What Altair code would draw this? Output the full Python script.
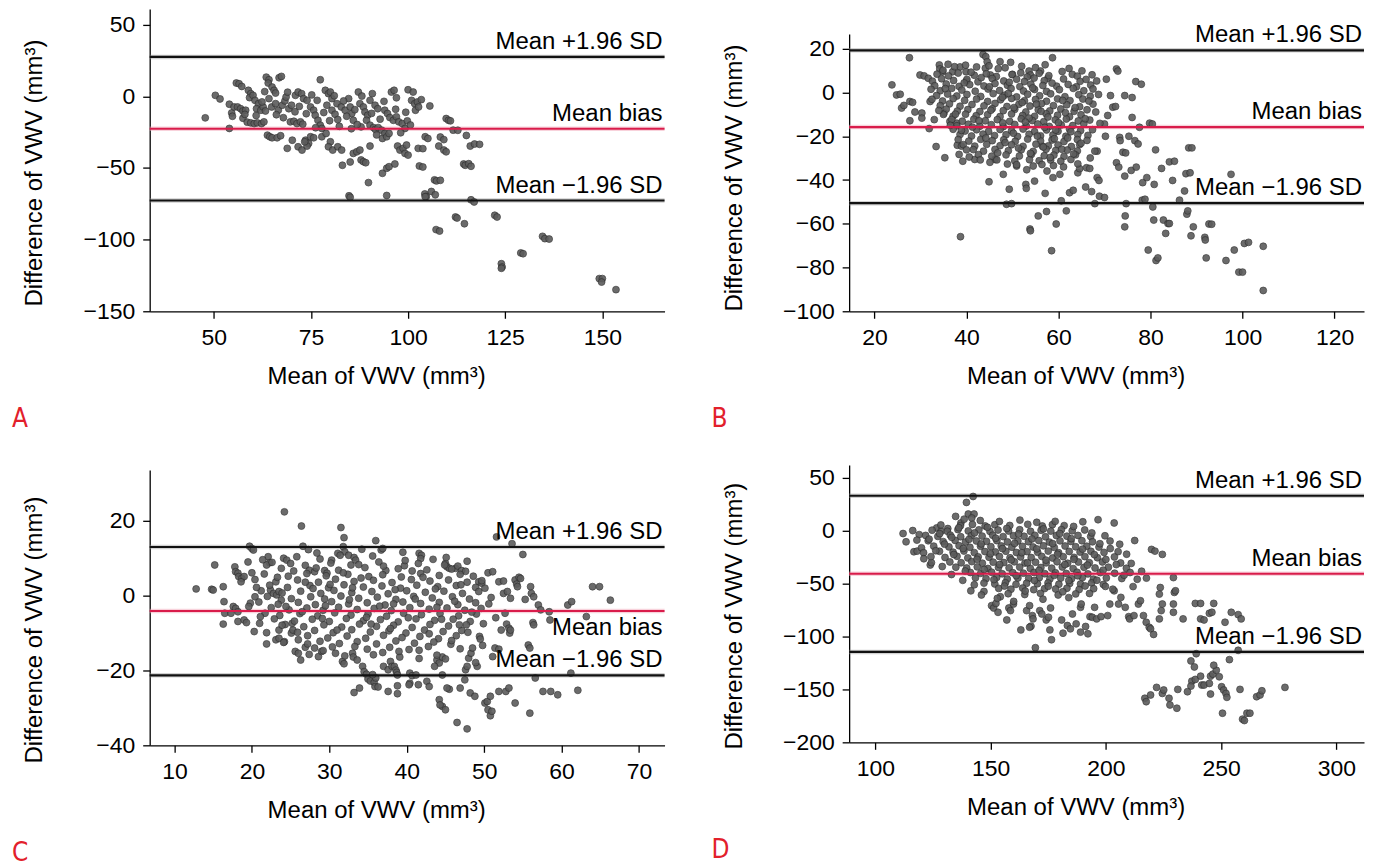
import altair as alt
import pandas as pd

# ---------------- data (mean of VWV, difference of VWV) ----------------
A_POINTS = [
    (47.8, -15.0), (50.4, 0.7), (51.6, -1.8), (54.0, -22.4), (54.0, -5.5), (54.6, -11.6), (55.2, -7.4), (54.8, -13.9),
    (55.8, 9.3), (56.5, 8.8), (57.2, 6.9), (56.1, -7.4), (56.9, -8.6), (57.5, -10.2), (58.2, -9.7),
    (57.5, -15.3), (58.6, -18.0), (59.5, -18.5), (60.4, -19.0), (61.2, -18.5), (62.3, -19.0), (62.9, -17.8),
    (58.9, 4.2), (59.5, 1.9), (59.2, -0.9), (60.1, 0.7), (60.6, -2.8), (61.5, -5.1), (61.0, -8.6), (62.1, -9.7),
    (62.7, -7.4), (63.3, -10.2), (63.5, 13.4), (64.2, 11.6), (64.0, 9.3), (65.0, 6.5), (65.5, 4.2), (65.9, 2.3),
    (66.8, 13.0), (67.4, 13.9), (63.8, -27.1), (64.4, -28.2), (65.0, -28.9), (66.3, -28.9), (67.2, -27.5),
    (64.2, -1.6), (64.9, -7.4), (65.9, -5.1), (66.6, -9.7), (67.6, -6.2), (68.3, -3.2), (68.6, -0.5), (69.3, -8.6),
    (70.0, -6.2), (68.9, -36.3), (70.2, -30.6), (69.7, -17.8), (70.6, -17.4), (71.4, -19.0), (72.3, -17.8),
    (72.9, -19.4), (71.0, 0.7), (71.7, 3.0), (72.6, 1.9), (73.1, -1.6), (74.0, -2.8), (71.7, -35.2), (72.7, -37.5),
    (73.6, -30.6), (74.4, -32.9), (74.9, -28.2), (75.7, -28.9), (74.0, -34.7), (73.4, -31.7), (74.9, -7.4),
    (75.7, -9.7), (76.1, -13.2), (76.8, -16.7), (77.4, -20.1), (77.8, -22.4), (76.6, -2.8), (77.4, 11.6),
    (78.7, 4.2), (79.5, 1.9), (80.0, 3.0), (80.4, -1.6), (79.1, -6.2), (80.4, -9.7), (81.2, -12.5), (81.9, -16.2),
    (77.8, -28.2), (78.9, -25.9), (80.0, -31.7), (79.5, -35.2), (80.6, -37.5), (81.9, -35.2), (82.9, -37.5),
    (81.7, -5.1), (82.8, -7.4), (83.8, -9.7), (84.7, -1.6), (85.1, -7.4), (85.5, -12.0), (85.9, -16.7),
    (83.1, -48.1), (85.1, -45.8), (85.9, -39.8), (86.8, -38.7), (87.6, -37.5), (87.9, -44.4), (88.5, -45.6),
    (89.1, -46.3), (87.2, 3.0), (87.6, -5.1), (88.5, -7.4), (88.9, -10.9), (89.6, -13.2), (90.2, -2.8), (90.8, 1.9),
    (91.5, -6.2), (92.2, -8.6), (89.3, -16.7), (90.2, -20.1), (91.1, -21.8), (91.6, -23.1), (92.3, -21.8),
    (93.2, -23.6), (94.0, -25.9), (93.4, -29.4), (94.5, -28.2), (95.1, -25.9), (89.8, -60.2), (90.2, -34.7),
    (87.9, -21.3), (93.4, -53.7), (94.5, -50.2), (95.1, -49.1), (96.6, -47.2), (95.7, 3.0), (96.4, 4.2),
    (94.0, -9.7), (94.7, -12.0), (95.3, -14.8), (96.2, -16.7), (97.0, -14.3), (97.6, -17.8), (98.5, -19.0),
    (99.2, -22.4), (99.8, -17.1), (97.3, -34.7), (97.9, -37.5), (98.7, -36.3), (99.2, -39.8), (100.0, -41.0),
    (99.6, -34.0), (100.0, 4.6), (101.3, 3.0), (100.9, -2.8), (101.7, -5.1), (102.4, -3.9), (103.4, -2.3),
    (101.9, -9.7), (102.7, -7.4), (102.9, -48.6), (102.6, -36.3), (103.8, -36.5), (103.8, -49.3), (105.6, -6.7),
    (104.4, -28.2), (105.1, -29.4), (106.8, -58.3), (107.3, -59.0), (104.3, -68.1), (104.7, -69.9), (106.0, -66.4),
    (107.0, -68.7), (107.9, -34.7), (109.2, -37.5), (109.8, -38.7), (108.3, -28.4), (109.2, -30.2),
    (109.8, -15.5), (110.4, -16.7), (110.9, -17.1), (111.6, -23.6), (112.8, -23.7), (115.0, -27.3),
    (114.3, -47.2), (114.7, -48.1), (115.6, -47.0), (116.2, -48.8), (116.0, -34.7), (117.1, -33.3), (118.4, -33.5),
    (84.8, -69.4), (85.1, -70.4), (94.5, -69.2), (104.4, -70.0), (116.2, -72.2), (117.0, -73.7), (108.3, -58.6),
    (107.2, -93.0), (108.1, -94.0), (112.2, -84.2), (112.6, -84.9), (114.5, -88.9), (122.3, -83.0), (122.9, -84.2),
    (124.0, -116.8), (124.2, -119.1), (124.0, -120.0), (129.0, -109.3), (129.6, -109.8), (134.6, -97.7),
    (135.2, -99.3), (136.3, -99.6), (149.2, -127.2), (150.0, -127.2), (149.8, -129.6), (153.5, -134.9),
    # extra points in the dense part
    (58.0, -12.6), (60.9, -13.4), (62.4, -3.9), (63.1, 3.3), (66.1, -12.8), (67.9, -14.9), (69.0, 2.9), (70.9, -10.8),
    (72.0, -7.0), (73.8, -12.1), (75.2, 1.0), (76.2, -21.9), (78.3, -11.3), (79.8, -17.0), (81.0, 0.4), (82.3, -20.9),
    (83.4, -3.2), (84.2, -13.9), (86.3, -9.3), (86.9, -19.7), (88.1, 0.2), (90.6, -11.9), (92.8, -15.9), (93.8, -3.5),
    (96.8, -9.0), (98.1, -25.4), (99.4, -11.1), (100.6, -20.0), (97.0, -1.0), (91.9, -26.9), (85.4, -22.6),
]

B_POINTS = [
    (27.6, 15.9), (23.8, 3.5), (24.8, -1.1), (25.6, -0.8), (25.9, -7.1), (26.4, -5.9), (27.7, -4.1), (28.3, -4.5),
    (27.7, -12.9), (28.8, -8.9), (30.3, -9.4), (30.3, -11.7), (29.9, 8.0), (30.8, 7.6), (31.7, 6.5), (32.1, -4.1),
    (31.9, -16.5), (33.4, -24.7), (34.1, 12.6), (34.2, 10.8), (34.8, 9.5), (35.1, -9.4), (35.3, -29.8),
    (36.4, -13.2), (37.0, 9.5), (37.9, -14.0), (38.0, -24.1), (38.6, 11.7), (39.2, -31.4), (39.9, 9.5), (40.0, 5.3),
    (38.4, -28.3), (38.9, -24.5), (41.8, -30.6), (42.2, 11.7), (43.6, 17.4), (44.2, 16.4), (44.5, 14.1),
    (44.1, 11.1), (45.2, 8.0), (44.9, -40.8), (46.2, -30.6), (47.3, 14.1), (48.0, -37.4), (49.3, -44.2),
    (49.6, 13.8), (50.0, 8.3), (50.9, -33.6), (48.7, -51.1), (49.8, -50.8), (52.9, -42.0), (53.0, -43.8),
    (53.6, 9.8), (53.8, -62.4), (53.9, -63.2), (53.9, 8.0), (54.8, -40.5), (55.6, -56.4), (56.1, 9.8),
    (56.5, -24.5), (57.1, -46.1), (57.4, -54.4), (57.7, 6.5), (58.5, -72.3), (58.7, 15.9), (58.8, -38.9),
    (59.5, -60.1), (60.3, -37.4), (60.6, -49.5), (61.7, -54.1), (62.4, -45.8), (63.2, -44.7), (64.2, -36.7),
    (64.6, -34.8), (65.9, -43.2), (66.1, -34.4), (66.8, -34.7), (67.2, -45.3), (67.9, -50.8), (68.4, -38.9),
    (68.4, -26.8), (68.8, -40.2), (68.9, -47.4), (70.0, -48.0), (70.2, -20.0), (70.4, 6.1), (70.0, -14.4),
    (70.7, -10.5), (71.3, -1.4), (71.8, -6.7), (72.4, -6.4), (72.6, 10.8), (72.9, 9.8), (72.6, -32.1),
    (73.1, -34.1), (73.3, -20.5), (73.4, -22.0), (74.0, -27.3), (74.4, -1.4), (74.6, -27.6), (74.4, -38.2),
    (74.7, -50.8), (74.5, -56.4), (74.4, -61.4), (75.3, -20.0), (75.8, -35.6), (76.0, -2.3), (76.0, -11.4),
    (76.6, -22.0), (76.8, 5.0), (76.9, -34.1), (77.3, -23.5), (77.6, -15.9), (78.0, 3.8), (78.2, -49.2),
    (78.3, -41.2), (78.8, -48.8), (79.2, -38.9), (79.5, -72.0), (79.8, -14.0), (80.4, -14.4), (80.8, -42.0),
    (80.5, -52.3), (80.7, -58.3), (81.1, -26.2), (81.2, -76.8), (81.6, -75.6), (82.4, -34.7), (82.8, -58.3),
    (83.3, -64.4), (83.8, -59.9), (84.1, -59.9), (84.1, -31.7), (84.8, -40.2), (85.2, -31.4), (86.3, -49.2),
    (87.4, -45.0), (87.7, -37.1), (87.9, -55.6), (88.1, -54.1), (88.3, -25.3), (88.8, -65.5), (89.3, -61.4),
    (91.8, -66.2), (91.9, -67.4), (92.7, -60.1), (92.1, -75.6), (96.4, -76.8), (97.5, -37.4), (98.2, -72.0),
    (99.2, -82.1), (38.7, -65.9), (100.4, -69.0), (101.3, -68.5), (104.5, -70.3), (104.5, -90.5), (100.0, -82.1),
    (93.3, -60.2), (89.0, -25.3), (88.6, -36.7),
    # dense central cloud
    (33.6, 8.4), (36.1, 7.6), (38.2, 8.9), (41.7, 7.9), (44.3, 8.6), (46.5, 7.3), (49.9, 8.2), (53.2, 7.1),
    (55.8, 8.8), (57.9, 7.7), (63.0, 8.3), (64.1, 7.5), (67.3, 8.1),
    (32.6, 5.2), (34.6, 6.3), (37.2, 5.5), (40.1, 6.0), (42.5, 4.9), (45.6, 6.4), (48.1, 5.3), (50.9, 6.1),
    (52.6, 5.0), (54.7, 6.6), (56.9, 5.4), (61.1, 6.2), (64.7, 5.1), (66.0, 6.0),
    (33.1, 3.1), (35.6, 3.9), (38.4, 2.8), (40.7, 3.6), (43.8, 3.0), (46.2, 4.1), (48.9, 3.3), (51.6, 2.7),
    (54.0, 3.8), (56.6, 3.2), (59.6, 2.9), (62.1, 3.7), (63.9, 2.6), (67.0, 3.4),
    (32.3, 1.5), (34.3, 0.8), (36.8, 1.9), (39.0, 1.1), (41.9, 0.6), (44.7, 1.6), (47.2, 0.9), (49.7, 1.8),
    (52.4, 0.7), (54.8, 1.4), (57.4, 0.5), (60.2, 1.3), (63.2, 1.9), (65.5, 0.8), (67.5, 1.6),
    (33.5, -1.4), (35.9, -0.7), (37.9, -1.6), (40.1, -0.9), (43.1, -1.8), (45.8, -0.5), (48.3, -1.2), (50.9, -2.0),
    (53.3, -0.8), (55.9, -1.5), (58.3, -0.6), (61.4, -1.9), (64.4, -1.0), (66.9, -1.7),
    (32.5, -3.1), (34.8, -3.9), (37.1, -2.8), (39.6, -3.6), (42.2, -3.0), (44.6, -4.1), (47.4, -3.3), (49.8, -2.7),
    (52.6, -3.8), (55.0, -3.2), (57.4, -4.0), (59.8, -2.9), (62.5, -3.7), (65.3, -3.0),
    (34.3, -6.0), (36.3, -5.2), (38.6, -6.3), (41.2, -5.5), (43.8, -6.1), (46.2, -5.0), (48.8, -6.4), (51.4, -5.4),
    (53.8, -6.2), (56.3, -5.1), (58.9, -6.0), (61.8, -5.6), (64.6, -6.5), (67.5, -5.3),
    (35.6, -7.6), (38.0, -8.5), (40.3, -7.8), (42.9, -8.7), (45.6, -7.4), (48.0, -8.3), (50.5, -7.7), (52.9, -8.9),
    (55.6, -7.9), (58.1, -8.4), (60.5, -7.5), (63.4, -8.6), (66.2, -7.9),
    (35.0, -10.0), (37.1, -10.8), (39.8, -9.9), (42.1, -10.6), (44.6, -10.1), (47.3, -11.0), (49.8, -9.8),
    (52.2, -10.5), (54.8, -10.9), (57.3, -9.7), (59.8, -10.4), (62.4, -11.1), (64.9, -10.2),
    (36.8, -12.3), (39.1, -13.1), (41.6, -12.2), (44.1, -12.9), (46.7, -12.4), (49.4, -13.2), (51.9, -12.0),
    (54.3, -12.8), (56.8, -13.3), (59.3, -12.5), (61.7, -12.1), (64.3, -13.0), (66.8, -12.6),
    (37.9, -15.2), (40.4, -14.5), (42.9, -15.4), (45.4, -14.7), (48.0, -15.6), (50.5, -14.6), (53.0, -15.3),
    (55.5, -14.4), (58.0, -15.5), (60.6, -14.8), (63.1, -15.1), (65.5, -14.3),
    (37.1, -16.8), (39.7, -17.6), (42.2, -17.0), (44.8, -17.8), (47.3, -16.9), (49.8, -17.5), (52.3, -16.7),
    (54.8, -17.9), (57.4, -17.1), (59.9, -17.7), (62.4, -16.8), (64.8, -17.4), (67.4, -17.0),
    (38.6, -19.2), (41.1, -19.9), (43.6, -19.0), (46.1, -19.7), (48.6, -19.3), (51.1, -20.1), (53.6, -19.1),
    (56.1, -19.8), (58.8, -19.4), (61.6, -20.0), (64.2, -19.2), (66.4, -19.6),
    (38.2, -21.5), (40.5, -22.2), (43.1, -21.4), (45.6, -22.0), (48.1, -21.6), (50.6, -22.3), (53.3, -21.3),
    (56.1, -22.1), (58.6, -21.7), (61.2, -22.4), (64.1, -21.5), (66.2, -21.9),
    (39.3, -23.8), (41.8, -24.5), (44.4, -23.7), (47.3, -24.3), (49.8, -23.9), (52.3, -24.6), (55.1, -23.6),
    (57.8, -24.4), (59.9, -24.0), (62.8, -24.7), (64.6, -23.8),
    (41.5, -26.1), (43.7, -26.8), (46.2, -26.0), (49.1, -26.6), (51.9, -26.2), (54.5, -26.9), (57.3, -25.9),
    (59.4, -26.5), (61.9, -26.3), (64.1, -26.7),
    (42.6, -28.4), (45.5, -29.1), (48.6, -28.5), (51.5, -29.0), (54.1, -28.3), (56.9, -28.9), (59.0, -28.6),
    (61.2, -29.2), (63.7, -28.5),
    (46.6, -30.8), (50.5, -31.3), (53.7, -30.7), (55.8, -31.2), (58.3, -30.9), (60.5, -31.4), (62.7, -30.6),
    (50.9, -33.0), (54.5, -33.6), (56.4, -32.9), (58.9, -33.4),
    (34.9, 10.2), (37.4, 11.8), (39.5, 4.4), (41.0, 9.3), (43.2, 6.8), (45.0, 2.6), (46.9, 10.9), (47.8, -2.2),
    (49.3, 4.7), (50.3, -6.9), (51.8, 9.0), (52.1, -4.6), (53.6, -11.7), (54.4, 2.1), (55.4, -19.9), (56.2, -8.6),
    (57.0, -15.9), (58.6, 4.3), (59.1, -21.1), (60.0, -13.8), (60.9, -3.6), (61.5, -9.2), (62.7, -17.9),
    (63.6, -6.9), (64.9, -23.2), (65.8, -12.0), (66.6, -3.9), (67.9, -26.8), (42.7, -12.9), (44.2, -20.8),
    (45.3, -8.1), (46.8, -27.6), (47.9, -13.9), (48.4, -22.9), (49.1, -0.4), (50.2, -18.6), (51.3, -25.4),
    (52.8, -13.5), (53.9, -27.8), (55.2, -5.3), (56.7, -24.9), (57.7, -11.2), (58.2, -29.7), (59.4, -17.2),
    (60.7, -25.9), (62.0, -20.8), (63.3, -28.1), (41.3, -15.8), (40.0, -26.2), (38.9, -17.3), (37.6, -9.9),
    (36.5, -15.0), (35.4, 1.8), (34.0, -8.2), (33.0, -12.4), (36.0, 12.9), (39.8, 12.5), (44.9, 12.2),
    (48.4, 11.3), (52.0, 12.0), (55.0, 11.4), (57.1, 12.7), (60.8, 9.6), (62.3, 11.0), (65.1, 9.9), (68.3, 5.3),
    (68.7, -0.9), (68.1, -8.9), (69.0, -14.1), (66.9, -29.9), (64.2, -32.6), (61.1, -34.0), (57.5, -35.9),
    (53.1, -35.3), (48.9, -32.7), (45.1, -31.9), (43.0, -30.8), (40.6, -29.5),
]

C_POINTS = [
    (12.8, 1.8), (14.8, 1.7), (15.0, 1.5), (15.2, 8.2), (16.3, 2.4), (16.4, -1.6), (16.5, -4.7), (16.3, -7.6),
    (17.8, 7.7), (17.9, 6.4), (18.2, 6.0), (18.3, 5.1), (18.7, 4.6), (19.0, 5.1), (18.6, 3.7),
    (17.6, -2.9), (17.9, -3.4), (18.2, -4.3), (17.3, -4.7), (18.2, -6.9), (19.0, -6.5), (19.3, -7.2),
    (19.7, 13.2), (20.0, 12.6), (20.2, 12.2), (20.0, 6.1), (20.4, -0.3), (19.8, -2.0), (19.6, -2.9),
    (21.0, -7.4), (21.9, -9.9), (21.9, -12.9), (22.1, 10.4), (22.3, 8.8), (21.9, 8.2),
    (22.4, 1.5), (22.8, 0.6), (23.2, 0.2), (23.5, 1.1), (23.8, -1.2),
    (23.1, -11.8), (23.5, -11.4), (24.2, -12.3), (24.2, 22.4), (24.1, 10.0), (24.5, 9.5), (25.0, 8.6),
    (24.1, -12.5), (25.1, -10.0), (25.3, -9.2), (25.2, -7.4),
    (25.6, -14.9), (26.0, -15.4), (26.3, -17.2), (26.4, 18.6), (26.6, 13.2), (27.3, 12.3),
    (26.9, -13.8), (27.2, -12.9), (28.1, -14.0), (28.6, -16.3), (29.0, -14.9), (29.2, -14.7),
    (27.4, 6.8), (28.1, 6.4), (29.4, 6.7), (29.7, 6.0), (30.3, 9.5),
    (30.8, -15.4), (31.7, -17.6), (31.9, -18.2), (31.5, 18.2), (31.9, 15.5), (31.8, 13.1), (32.0, 11.7),
    (31.1, 11.3), (31.4, 10.8), (32.8, 8.2), (32.5, 10.8), (33.2, 10.2), (33.4, 9.5),
    (33.0, -15.4), (33.1, -16.4), (33.6, -17.2), (33.2, -25.9), (33.9, -24.7), (34.3, -18.9), (34.5, -20.3),
    (34.8, -21.0), (35.0, -22.3), (35.3, -22.8), (35.8, -23.2), (35.9, -24.3), (36.3, -24.4), (36.0, -22.0),
    (35.6, -21.1), (36.0, 14.7), (36.7, 12.2), (36.9, 12.6),
    (37.0, -18.9), (37.6, -19.8), (37.9, -17.6), (38.1, -18.9), (38.4, -18.9), (38.6, -19.9), (38.7, -20.5),
    (38.8, -21.2), (37.6, -25.6), (38.8, -26.2), (38.8, -24.1),
    (40.4, -20.7), (40.7, -21.4), (41.5, -23.8), (40.4, -23.4), (41.2, -21.2), (40.3, -23.8),
    (41.6, 11.3), (41.9, 10.8), (41.8, 9.9),
    (42.6, -22.9), (42.9, -24.3), (44.2, -27.8), (44.6, -29.6), (44.3, -29.2), (45.0, -30.5),
    (43.9, -17.2), (44.2, -18.0), (43.6, -18.9), (44.6, -16.4), (44.6, -21.2),
    (45.0, 8.6), (45.2, 7.7), (45.5, 7.3), (46.3, 7.3), (46.6, 7.9), (47.1, 6.7),
    (45.5, -25.0), (45.2, -24.7), (46.5, -33.9), (46.9, -24.7), (47.5, -22.5), (47.8, -35.6),
    (47.6, -19.8), (47.8, -18.9), (48.0, -16.7), (48.3, -15.4), (48.5, -14.0), (48.2, -26.0), (48.8, -26.9),
    (49.1, -18.9), (48.9, -17.9), (49.4, -10.9), (49.5, -11.6),
    (49.3, 3.7), (49.7, 3.3), (50.1, 2.0), (50.5, 6.1), (51.1, 6.4),
    (50.1, -28.7), (50.4, -28.3), (50.5, -30.5), (50.8, -32.1), (51.0, -30.9), (50.8, -26.9),
    (51.4, -14.0), (51.1, -16.3), (51.9, -14.3), (52.2, -9.2), (51.6, 15.7),
    (51.9, 3.7), (52.5, 0.6), (52.7, -4.7), (52.9, -7.6), (53.2, -8.7), (53.3, -10.0), (53.4, -9.2),
    (51.9, -25.6), (52.8, -25.6), (53.2, -24.7), (54.0, -28.7),
    (53.6, 13.9), (54.0, 4.2), (54.2, 3.1), (54.5, 4.9), (55.0, 11.0), (55.3, -1.0), (55.7, -13.2), (55.9, -14.0),
    (55.9, -31.4), (56.0, 2.4), (56.1, 0.6), (56.4, -0.3), (56.3, -7.2), (56.4, -7.8),
    (56.6, -22.0), (57.0, -2.5), (57.3, -3.8), (57.6, -25.6), (58.6, -25.6), (59.5, -26.5),
    (58.4, -4.3), (58.5, -6.5), (60.8, -2.5), (61.3, -1.6), (61.2, -20.7), (62.1, -25.3), (63.2, -5.6),
    (64.0, 2.4), (64.9, 2.4), (66.3, -1.2),
    (53.0, 1.1), (53.4, -0.7), (54.7, 4.6), (52.5, 3.9), (54.3, 2.4),
    # dense central cloud
    (22.6, 8.9), (26.9, 8.1), (30.2, 8.7), (33.8, 8.3), (36.4, 9.0), (39.7, 8.0), (41.5, 8.6), (44.9, 8.2),
    (23.8, 7.3), (25.4, 6.6), (28.3, 7.4), (31.2, 6.8), (34.6, 7.5), (37.3, 6.7), (38.9, 7.2), (42.6, 6.9),
    (45.8, 7.1), (47.6, 6.5),
    (21.6, 5.8), (24.7, 5.2), (27.1, 5.9), (29.6, 5.3), (32.4, 5.7), (35.1, 5.1), (36.9, 5.6), (39.3, 5.0),
    (41.8, 5.9), (44.2, 5.4), (46.9, 5.7), (48.6, 5.2),
    (20.4, 4.3), (23.1, 3.7), (25.9, 4.2), (28.6, 3.6), (30.8, 4.4), (33.2, 3.8), (35.7, 4.1), (38.1, 3.5),
    (40.6, 4.3), (43.0, 3.9), (45.4, 4.2), (47.8, 3.6), (49.7, 4.0),
    (22.3, 2.8), (24.6, 2.2), (27.5, 2.7), (29.9, 2.1), (31.9, 2.9), (34.4, 2.3), (36.8, 2.6), (39.2, 2.0),
    (41.3, 2.8), (44.0, 2.4), (46.4, 2.7), (48.9, 2.2),
    (21.2, 1.3), (23.9, 0.7), (26.3, 1.2), (28.9, 0.6), (30.6, 1.4), (32.9, 0.8), (35.5, 1.1), (37.6, 0.5),
    (40.0, 1.3), (42.4, 0.9), (44.8, 1.2), (47.2, 0.6), (49.3, 1.1),
    (22.0, -0.2), (25.1, -0.8), (27.6, -0.3), (29.4, -0.9), (31.5, -0.1), (33.8, -0.7), (36.2, -0.4),
    (38.6, -1.0), (40.9, -0.2), (43.3, -0.6), (45.9, -0.3), (48.1, -0.9),
    (20.9, -1.7), (23.4, -2.3), (26.0, -1.8), (28.2, -2.4), (30.3, -1.6), (32.5, -2.2), (34.9, -1.9),
    (37.2, -2.5), (39.5, -1.7), (41.8, -2.1), (44.2, -1.8), (46.6, -2.4), (48.9, -1.9), (50.6, -2.2),
    (22.5, -3.2), (24.8, -3.8), (27.1, -3.3), (29.2, -3.9), (31.2, -3.1), (33.6, -3.7), (35.8, -3.4),
    (38.0, -4.0), (40.4, -3.2), (42.9, -3.6), (45.2, -3.3), (47.5, -3.9), (49.6, -3.4),
    (21.7, -4.7), (23.6, -5.3), (26.2, -4.8), (28.5, -5.4), (30.7, -4.6), (32.8, -5.2), (35.0, -4.9),
    (37.4, -5.5), (39.6, -4.7), (41.9, -5.1), (44.3, -4.8), (46.7, -5.4), (49.0, -4.9),
    (22.9, -6.2), (25.5, -6.8), (27.8, -6.3), (30.0, -6.9), (32.2, -6.1), (34.4, -6.7), (36.6, -6.4),
    (38.9, -7.0), (41.2, -6.2), (43.6, -6.6), (46.0, -6.3), (48.2, -6.9),
    (24.3, -7.7), (26.7, -8.3), (29.3, -7.8), (31.6, -8.4), (33.9, -7.6), (36.1, -8.2), (38.3, -7.9),
    (40.7, -8.5), (43.0, -7.7), (45.4, -8.1), (47.7, -7.8),
    (23.5, -9.2), (25.9, -9.8), (28.1, -9.3), (30.5, -9.9), (32.9, -9.1), (35.3, -9.7), (37.7, -9.4),
    (39.9, -10.0), (42.3, -9.2), (44.7, -9.6), (47.1, -9.3),
    (27.2, -10.7), (29.8, -11.3), (32.3, -10.8), (34.7, -11.4), (37.0, -10.6), (39.4, -11.2), (41.7, -10.9),
    (44.1, -11.5), (46.4, -10.7),
    (28.8, -12.2), (31.3, -12.8), (33.6, -12.3), (36.1, -12.9), (38.6, -12.1), (41.0, -12.7), (43.5, -12.4),
    (45.7, -13.0), (30.4, -13.7), (34.9, -14.3), (37.8, -13.8), (40.3, -14.4), (42.8, -13.6), (46.9, -14.2),
    (35.7, -15.8), (39.1, -16.4), (43.9, -15.9),
    (21.4, 9.6), (23.3, 4.9), (24.4, -2.9), (25.8, 10.4), (26.5, -4.3), (27.9, 1.9), (28.8, 9.8), (29.1, -6.1),
    (30.1, 3.0), (31.0, -9.2), (31.8, 6.1), (32.6, -1.1), (33.3, -13.6), (34.1, 4.7), (34.8, -5.8), (35.6, 10.6),
    (36.5, -2.8), (37.0, 7.9), (37.9, -8.8), (38.5, 1.6), (39.0, -14.9), (39.8, 9.4), (40.2, -5.9), (41.1, -0.9),
    (41.6, -16.8), (42.1, 4.9), (42.9, -10.2), (43.7, 1.8), (44.5, -6.3), (45.1, 10.2), (45.8, -12.0),
    (46.2, -1.5), (47.0, 2.9), (47.9, -9.8), (48.4, -4.4), (49.9, -7.5), (50.9, -0.5), (51.5, -5.9),
    (26.0, -11.8), (27.4, -15.7), (32.0, -16.1), (36.9, -15.2), (41.6, -14.6), (45.0, -16.9), (20.6, 2.2),
    (19.5, 9.0), (21.1, -5.6), (20.3, -9.6), (23.9, -7.9), (26.9, 3.6), (29.5, -2.7), (33.0, 2.1), (35.4, -7.6),
    (38.3, -2.2), (40.7, 6.6), (43.9, -3.1), (46.8, -7.8), (49.8, -13.3), (28.4, 11.4), (34.2, 12.4),
    (39.5, 11.6), (43.4, 9.7), (47.8, 9.2),
]

D_POINTS = [
    (112.0, -2.8), (113.3, -10.6), (116.2, 0.0), (116.7, -20.0), (118.1, -19.4), (119.0, -3.8), (120.0, -16.3),
    (120.9, -20.9), (123.8, -32.5), (124.3, -30.3), (126.6, 2.5), (128.5, -0.6), (131.4, 1.9),
    (134.8, 13.4), (137.1, 7.2), (139.5, 26.6), (140.3, 15.6), (142.8, 15.6), (141.8, 11.9), (142.4, 32.2),
    (141.4, -56.9), (147.1, -57.5), (150.4, -70.9), (151.3, -73.1), (153.2, -77.2), (152.3, -68.8), (154.2, -62.5),
    (157.0, -84.4), (157.9, -73.1), (158.6, -75.6), (159.9, -69.4), (163.1, -93.8),
    (165.6, -75.6), (166.9, -70.9), (168.1, -80.3), (168.4, -83.4), (167.5, -90.3), (166.9, -91.3), (169.4, -110.6),
    (171.3, -75.6), (172.2, -78.8), (174.1, -84.4), (175.1, -81.9), (176.0, -73.1), (175.7, -93.8), (176.4, -103.1),
    (180.8, -84.4), (181.4, -96.9), (183.3, -89.7), (184.6, -92.8), (185.5, -78.8), (187.1, -88.1), (189.0, -95.9),
    (189.0, -72.5), (189.3, -69.4), (191.2, -90.6), (192.2, -97.5), (193.1, -81.3), (194.1, -81.9), (195.1, -72.5),
    (196.0, -83.4), (197.9, -81.3), (200.8, -80.3), (201.7, -69.4), (203.6, -56.9), (205.5, -69.4), (206.5, -63.1),
    (208.4, -72.5), (209.9, -81.3), (210.3, -83.4), (212.2, -80.3), (214.1, -69.4), (215.0, -66.3), (216.3, -80.3),
    (217.5, -86.6), (218.8, -91.3), (219.4, -92.8), (220.7, -98.1), (223.2, -83.4), (224.0, -75.6), (224.5, -69.4),
    (223.6, -53.8), (223.2, -60.0), (229.3, -44.4), (229.7, -58.4), (230.2, -56.9), (229.3, -69.4), (229.3, -77.2),
    (233.5, -83.4), (196.6, 10.3), (203.6, 7.2), (212.5, -9.4), (219.8, -17.8), (221.3, -19.4), (224.5, -22.5),
    (238.8, -68.8), (241.1, -68.8), (241.1, -83.4), (242.6, -84.4), (244.9, -78.1), (246.0, -77.2), (246.8, -68.8),
    (254.4, -77.2), (257.4, -79.4), (258.7, -83.4), (251.7, -86.6),
    (236.9, -123.1), (238.4, -128.8), (237.3, -142.2), (238.8, -140.6), (239.2, -116.3), (241.1, -137.5),
    (241.6, -145.9), (242.6, -145.9), (236.9, -146.9), (235.4, -152.2), (245.4, -137.5), (246.4, -135.6),
    (247.9, -131.9), (244.9, -144.4), (245.4, -154.4), (246.8, -127.2), (249.2, -138.1), (250.2, -147.5),
    (251.1, -150.6), (252.1, -153.8), (252.5, -157.5), (250.6, -172.5), (253.6, -121.9), (257.4, -113.1),
    (258.2, -150.0), (259.3, -178.1), (260.1, -179.4), (261.2, -172.5), (262.5, -172.5), (265.4, -156.9),
    (266.9, -155.3), (267.7, -151.3), (277.7, -148.1), (216.9, -158.4), (217.5, -161.6), (219.4, -155.3),
    (222.0, -148.1), (224.5, -153.8), (225.1, -150.6), (227.4, -158.4), (227.8, -164.7), (231.2, -150.0),
    (230.8, -167.8),
    # dense central cloud
    (128.4, 5.3), (136.9, 4.6), (142.1, 5.8), (147.6, 4.4), (151.8, 5.5), (158.3, 4.8), (166.1, 5.9), (172.4, 4.3),
    (176.8, 5.6), (181.9, 4.7),
    (124.6, 0.4), (131.2, -0.6), (135.8, 0.9), (140.3, -0.3), (144.9, 0.7), (149.7, -0.8), (153.2, 0.5),
    (157.8, -0.4), (162.6, 0.8), (167.3, -0.7), (171.9, 0.3), (176.1, -0.5), (180.7, 0.9), (185.4, -0.2), (190.8, 0.6),
    (121.8, -4.6), (127.1, -5.5), (132.5, -4.3), (137.0, -5.8), (141.6, -4.8), (146.3, -5.2), (150.9, -4.4),
    (155.4, -5.7), (159.9, -4.9), (164.5, -5.4), (169.2, -4.5), (173.8, -5.9), (178.5, -4.7), (183.1, -5.3),
    (187.9, -4.6), (193.4, -5.6), (199.6, -4.9),
    (122.9, -9.6), (129.4, -10.4), (134.6, -9.3), (139.1, -10.8), (143.8, -9.8), (148.2, -10.2), (152.7, -9.5),
    (157.3, -10.7), (161.8, -9.9), (166.4, -10.5), (170.9, -9.4), (175.5, -10.9), (180.1, -9.7), (184.8, -10.3),
    (189.6, -9.6), (194.2, -10.6), (201.8, -9.9),
    (125.3, -14.7), (131.9, -15.4), (136.3, -14.3), (141.0, -15.8), (145.6, -14.8), (150.1, -15.2), (154.6, -14.5),
    (159.2, -15.7), (163.8, -14.9), (168.4, -15.5), (172.9, -14.4), (177.6, -15.9), (182.3, -14.6), (186.9, -15.3),
    (191.7, -14.8), (197.0, -15.6),
    (127.8, -19.6), (133.7, -20.4), (138.4, -19.3), (142.9, -20.8), (147.5, -19.8), (152.1, -20.2), (156.6, -19.5),
    (161.2, -20.7), (165.8, -19.9), (170.4, -20.5), (175.0, -19.4), (179.5, -20.9), (184.1, -19.7), (188.8, -20.3),
    (193.5, -19.6), (199.2, -20.6), (205.3, -19.9),
    (124.1, -24.6), (130.2, -25.4), (135.4, -24.3), (140.1, -25.8), (144.6, -24.8), (149.3, -25.2), (153.8, -24.5),
    (158.4, -25.7), (163.0, -24.9), (167.6, -25.5), (172.2, -24.4), (176.9, -25.9), (181.5, -24.7), (186.2, -25.3),
    (190.9, -24.6), (196.3, -25.6), (203.7, -24.9),
    (132.3, -29.6), (137.2, -30.4), (141.8, -29.3), (146.4, -30.8), (151.1, -29.8), (155.7, -30.2), (160.3, -29.5),
    (164.9, -30.7), (169.5, -29.9), (174.1, -30.5), (178.8, -29.4), (183.4, -30.9), (188.1, -29.7), (192.8, -30.3),
    (198.5, -29.6), (206.4, -30.6),
    (134.9, -34.6), (139.6, -35.4), (144.2, -34.3), (148.8, -35.8), (153.4, -34.8), (158.0, -35.2), (162.6, -34.5),
    (167.2, -35.7), (171.8, -34.9), (176.5, -35.5), (181.1, -34.4), (185.8, -35.9), (190.5, -34.7), (195.3, -35.3),
    (201.1, -34.6), (208.9, -35.6),
    (141.2, -39.6), (145.7, -40.4), (150.4, -39.3), (155.0, -40.8), (159.6, -39.8), (164.2, -40.2), (168.8, -39.5),
    (173.5, -40.7), (178.1, -39.9), (182.8, -40.5), (187.5, -39.4), (192.2, -40.9), (197.6, -39.7), (203.8, -40.3),
    (210.5, -39.6),
    (143.4, -44.6), (148.0, -45.4), (152.6, -44.3), (157.2, -45.8), (161.8, -44.8), (166.5, -45.2), (171.1, -44.5),
    (175.7, -45.7), (180.4, -44.9), (185.1, -45.5), (189.8, -44.4), (194.6, -45.9), (200.2, -44.7), (206.9, -45.3),
    (147.1, -49.6), (151.8, -50.4), (156.4, -49.3), (161.0, -50.8), (165.6, -49.8), (170.3, -50.2), (174.9, -49.5),
    (179.6, -50.7), (184.3, -49.9), (189.0, -50.5), (193.8, -49.4), (198.9, -50.9),
    (153.5, -54.6), (158.8, -55.4), (163.9, -54.3), (168.7, -55.8), (173.4, -54.8), (178.2, -55.2), (183.1, -54.5),
    (188.4, -55.7), (194.7, -54.9),
    (157.6, -59.6), (164.8, -60.4), (171.6, -59.3), (179.3, -60.8), (186.9, -59.8),
    (123.3, -8.1), (126.2, -19.0), (127.9, -2.9), (130.0, -12.8), (133.1, -6.4), (134.0, -22.6), (136.2, 2.7),
    (138.1, -16.9), (139.0, -38.2), (140.6, -8.3), (143.0, -2.2), (144.1, -27.1), (145.9, -12.6), (147.2, -36.8),
    (148.6, 3.1), (149.9, -21.9), (151.4, -46.3), (152.2, -7.2), (153.9, -32.1), (155.1, -17.0), (156.0, -52.4),
    (157.0, 2.0), (158.9, -27.7), (160.4, -12.1), (161.1, -42.6), (162.1, -3.2), (163.5, -20.9), (165.0, -57.1),
    (166.0, -30.4), (167.9, -7.9), (169.0, -47.1), (170.0, -17.3), (171.0, -37.6), (172.9, 1.6), (174.0, -27.9),
    (175.0, -52.6), (176.9, -12.3), (177.6, -42.3), (179.0, -22.4), (180.0, -2.8), (181.3, -57.8), (182.2, -32.1),
    (183.9, -47.2), (185.0, -7.6), (186.1, -27.2), (187.8, -42.7), (189.9, -17.5), (191.0, -52.3), (192.0, -32.6),
    (193.9, -2.2), (195.0, -22.7), (196.1, -46.9), (197.4, -12.4), (198.8, -37.4), (200.0, -27.3), (201.9, -17.0),
    (203.0, -55.4), (204.5, -32.1), (206.0, -12.9), (207.9, -42.1), (209.0, -22.3), (211.0, -31.0), (213.6, -46.0),
    (215.5, -38.4), (118.0, -9.0), (121.0, -26.6), (129.0, -34.0), (133.0, -41.5), (137.9, -47.0), (142.9, -51.2),
    (146.0, -60.8), (152.9, -64.0), (160.0, -66.9), (172.7, -64.8), (183.9, -63.3), (192.9, -59.4), (199.8, -52.7),
    (211.8, -52.9), (217.6, -44.9), (138.5, 10.8), (145.5, 9.5), (153.8, 8.6), (162.7, 9.9), (170.0, 7.8),
    (178.0, 8.7), (186.0, 3.9), (190.0, 8.3),
]

# mean bias and limits of agreement (upper, bias, lower)
A_LINES = [27.5, -22.6, -72.7]
B_LINES = [19.3, -15.8, -50.6]
C_LINES = [13.0, -4.1, -21.3]
D_LINES = [32.9, -40.8, -114.6]
LINE_LABELS = ["Mean +1.96 SD", "Mean bias", "Mean \u22121.96 SD"]

A_XDOM, A_XTICKS = [33.5, 166], [50, 75, 100, 125, 150]
A_YDOM, A_YTICKS = [-150, 61], [-150, -100, -50, 0, 50]
B_XDOM, B_XTICKS = [14.5, 126.4], [20, 40, 60, 80, 100, 120]
B_YDOM, B_YTICKS = [-100, 26.8], [-100, -80, -60, -40, -20, 0, 20]
C_XDOM, C_XTICKS = [6.8, 73.3], [10, 20, 30, 40, 50, 60, 70]
C_YDOM, C_YTICKS = [-40, 33.6], [-40, -20, 0, 20]
D_XDOM, D_XTICKS = [88.6, 312], [100, 150, 200, 250, 300]
D_YDOM, D_YTICKS = [-200, 62], [-200, -150, -100, -50, 0, 50]

FONT = "Liberation Sans, Arial, Helvetica, sans-serif"
LETTER_FONT = "Liberation Sans Narrow, DejaVu Sans Condensed, Roboto Condensed, Liberation Sans, sans-serif"
LETTER_RED = "#e2202b"
BIAS_RED = "#d91c4b"
POINT_FILL = "#5c5c5c"
POINT_EDGE = "#2c2c2c"


def panel(points, lines, xdom, xticks, ydom, yticks, w, h, ytitle_y, letter, bias_below=False):
    df = pd.DataFrame(points, columns=["m", "d"])
    xs = alt.Scale(domain=xdom, nice=False, zero=False)
    ys = alt.Scale(domain=ydom, nice=False, zero=False)
    xaxis = alt.Axis(values=xticks, title="Mean of VWV (mm\u00b3)", titleX=227, titleY=72,
                     titleAlign="center", titleBaseline="alphabetic", tickSize=7, labelPadding=8)
    yaxis = alt.Axis(values=yticks, title="Difference of VWV (mm\u00b3)", titleX=-115, titleY=ytitle_y,
                     titleAngle=270, titleAlign="center", titleBaseline="middle", tickSize=7, labelPadding=8)
    X = alt.X("m:Q", scale=xs, axis=xaxis)
    Y = alt.Y("d:Q", scale=ys, axis=yaxis)

    ldf = pd.DataFrame({"m": [xdom[1]] * 3, "d": lines, "lab": LINE_LABELS, "kind": ["lim", "bias", "lim"]})
    lim = ldf[ldf["kind"] == "lim"]
    bias = ldf[ldf["kind"] == "bias"]

    lim_halo = alt.Chart(lim).mark_rule(color="#9a9a9a", strokeWidth=4.5, opacity=0.45).encode(y=Y)
    lim_rule = alt.Chart(lim).mark_rule(color="#111111", strokeWidth=2.2).encode(y=Y)
    bias_halo = alt.Chart(bias).mark_rule(color="#f2a6b8", strokeWidth=4.5, opacity=0.5).encode(y=Y)
    bias_rule = alt.Chart(bias).mark_rule(color=BIAS_RED, strokeWidth=2.2).encode(y=Y)

    pts = alt.Chart(df).mark_circle(size=48, color=POINT_FILL, opacity=0.9,
                                    stroke=POINT_EDGE, strokeWidth=0.7).encode(x=X, y=Y)

    lim_text = alt.Chart(lim).mark_text(align="right", baseline="alphabetic", dx=-2, dy=-8,
                                        fontSize=24, font=FONT, color="black").encode(x=X, y=Y, text="lab:N")
    bias_text = alt.Chart(bias).mark_text(align="right", baseline="alphabetic", dx=-2,
                                          dy=24 if bias_below else -8,
                                          fontSize=24, font=FONT, color="black").encode(x=X, y=Y, text="lab:N")

    return alt.layer(lim_halo, bias_halo, pts, lim_rule, bias_rule, lim_text, bias_text).properties(
        width=w, height=h,
        title=alt.TitleParams(letter, orient="bottom", anchor="start", fontSize=26, font=LETTER_FONT,
                              color=LETTER_RED, fontWeight="normal", offset=18, dx=-11),
    )


pa = panel(A_POINTS, A_LINES, A_XDOM, A_XTICKS, A_YDOM, A_YTICKS, 516, 303, 164, "A")
pb = panel(B_POINTS, B_LINES, B_XDOM, B_XTICKS, B_YDOM, B_YTICKS, 516, 278, 144, "B")
pc = panel(C_POINTS, C_LINES, C_XDOM, C_XTICKS, C_YDOM, C_YTICKS, 516, 276, 160, "C", bias_below=True)
pd_ = panel(D_POINTS, D_LINES, D_XDOM, D_XTICKS, D_YDOM, D_YTICKS, 516, 278, 151, "D")

# invisible 1-px spacer so that the right column starts lower than the left one
spacer = alt.Chart(pd.DataFrame({"s": [0]})).mark_point(opacity=0).encode(
    x=alt.value(0), y=alt.value(0)
).properties(width=516, height=1)

left = alt.vconcat(pa, pc, spacing=38)
right = alt.vconcat(spacer, alt.vconcat(pb, pd_, spacing=33), spacing=11)

chart = alt.hconcat(left, right, spacing=44).properties(
    padding={"left": 4, "top": -3, "right": 0, "bottom": 0}
).configure_view(stroke=None).configure_axis(
    grid=False, domainColor="black", tickColor="black", labelColor="black", titleColor="black",
    labelFont=FONT, titleFont=FONT, labelFontSize=23, titleFontSize=24, titleFontWeight="normal",
    domainWidth=1.3, tickWidth=1.3,
)

chart.save("out.html", embed_options={"renderer": "svg", "actions": False})
